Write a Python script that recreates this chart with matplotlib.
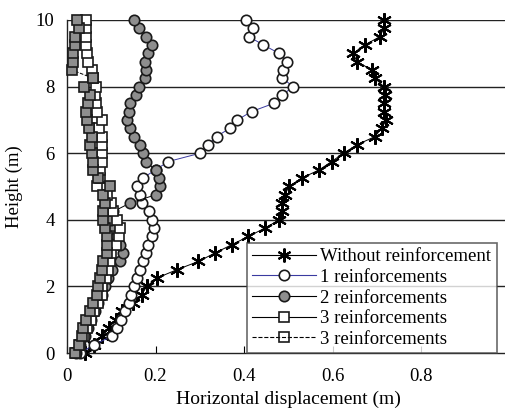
import matplotlib
matplotlib.use("Agg")
import matplotlib.pyplot as plt
from matplotlib.lines import Line2D

plt.rcParams['font.family'] = ['Liberation Serif', 'DejaVu Serif']

heights = [0, 0.25, 0.5, 0.75, 1.0, 1.25, 1.5, 1.75, 2.0, 2.25, 2.5, 2.75, 3.0, 3.25,
           3.5, 3.75, 4.0, 4.25, 4.5, 4.75, 5.0, 5.25, 5.5, 5.75, 6.0, 6.25, 6.5, 6.75,
           7.0, 7.25, 7.5, 7.75, 8.0, 8.25, 8.5, 8.75, 9.0, 9.25, 9.5, 9.75, 10.0]

without_reinf = [0.04, 0.06, 0.08, 0.095, 0.11, 0.125, 0.150, 0.169, 0.180, 0.203, 0.248,
                 0.297, 0.334, 0.372, 0.410, 0.447, 0.480, 0.485, 0.487, 0.492, 0.502,
                 0.530, 0.570, 0.598, 0.625, 0.655, 0.696, 0.711, 0.722, 0.716, 0.716,
                 0.719, 0.716, 0.696, 0.689, 0.655, 0.647, 0.673, 0.707, 0.716, 0.716]

reinf_1 = [0.03, 0.061, 0.101, 0.112, 0.122, 0.131, 0.139, 0.144, 0.151, 0.159, 0.165,
           0.172, 0.179, 0.184, 0.191, 0.197, 0.191, 0.186, 0.169, 0.165, 0.159, 0.171,
           0.200, 0.229, 0.301, 0.319, 0.338, 0.368, 0.385, 0.417, 0.468, 0.487, 0.511,
           0.487, 0.489, 0.497, 0.479, 0.444, 0.411, 0.420, 0.405]

reinf_2 = [0.02, 0.03, 0.04, 0.047, 0.055, 0.063, 0.07, 0.078, 0.085, 0.093, 0.101,
           0.120, 0.127, 0.12, 0.11, 0.105, 0.10, 0.105, 0.142, 0.200, 0.210, 0.209,
           0.200, 0.178, 0.172, 0.165, 0.151, 0.142, 0.135, 0.140, 0.142, 0.157, 0.163,
           0.176, 0.178, 0.176, 0.184, 0.192, 0.179, 0.163, 0.151]

reinf_3a = [0.02, 0.03, 0.038, 0.045, 0.055, 0.06, 0.07, 0.078, 0.08, 0.088, 0.093,
            0.098, 0.10, 0.11, 0.118, 0.12, 0.112, 0.105, 0.1, 0.09, 0.067, 0.075,
            0.075, 0.078, 0.078, 0.078, 0.078, 0.073, 0.078, 0.067, 0.065, 0.063,
            0.066, 0.059, 0.056, 0.048, 0.046, 0.043, 0.043, 0.043, 0.043]

reinf_3b = [0.018, 0.026, 0.033, 0.037, 0.044, 0.052, 0.059, 0.067, 0.071, 0.075, 0.078,
            0.081, 0.090, 0.090, 0.090, 0.086, 0.082, 0.082, 0.086, 0.082, 0.097, 0.071,
            0.058, 0.058, 0.056, 0.052, 0.056, 0.050, 0.046, 0.044, 0.048, 0.052, 0.038,
            0.059, 0.011, 0.014, 0.014, 0.018, 0.018, 0.026, 0.023]

labels = ["Without reinforcement", "1 reinforcements", "2 reinforcements",
          "3 reinforcements", "3 reinforcements"]
x_ticks = [0, 0.2, 0.4, 0.6, 0.8, 1.0]
x_ticklabels = ["0", "0.2", "0.4", "0.6", "0.8", "1"]
y_ticks = [0, 2, 4, 6, 8, 10]

fig = plt.figure(figsize=(5.05, 4.19), dpi=100)
W, H = 505, 419
ax = fig.add_axes([67 / W, (H - 353) / H, 442.5 * 1.0 / W, (353 - 20) / H])

edge = '#1a1a1a'
gray = '#8e8e8e'
ms_c = 7.5
ms_s = 7.2
mew = 1.2
fs = 13.5

ax.plot(without_reinf, heights, color='black', lw=0.7, marker=(6, 2, 0), ms=10.5,
        mew=1.5, mec='black', zorder=3, clip_on=False)
ax.plot(reinf_1, heights, color='#3a3aa0', lw=0.7, marker='o', ms=ms_c, mfc='white',
        mec=edge, mew=mew, zorder=4, clip_on=False)
ax.plot(reinf_2, heights, color='black', lw=0.7, marker='o', ms=ms_c, mfc=gray,
        mec=edge, mew=mew, zorder=5, clip_on=False)
ax.plot(reinf_3a, heights, color='black', lw=0.7, marker='s', ms=ms_s, mfc='white',
        mec=edge, mew=mew, zorder=6, clip_on=False)
ax.plot(reinf_3b, heights, color='black', lw=0.7, ls='--', marker='s', ms=ms_s, mfc=gray,
        mec=edge, mew=mew, zorder=7, clip_on=False)

ax.set_xlim(0, 1.0)
ax.set_ylim(0, 10)
ax.set_xticks(x_ticks)
ax.set_xticklabels(x_ticklabels)
ax.set_yticks(y_ticks)
for yv in y_ticks[1:]:
    ax.axhline(yv, color='#222222', lw=1.0, zorder=1)

for s in ['top', 'right']:
    ax.spines[s].set_visible(False)
for s in ['left', 'bottom']:
    ax.spines[s].set_linewidth(1.0)
    ax.spines[s].set_color('#222222')
ax.tick_params(axis='x', direction='in', length=5, width=0.8, labelsize=fs, pad=11)
ax.tick_params(axis='y', direction='in', length=0, labelsize=fs, pad=9)

ax.set_xlabel("Horizontal displacement (m)", fontsize=14, labelpad=4)
ax.set_ylabel("Height (m)", fontsize=fs, labelpad=9)

handles = [
    Line2D([], [], color='black', lw=0.8, marker=(6, 2, 0), ms=10, mew=1.5, mec='black'),
    Line2D([], [], color='#3a3aa0', lw=0.8, marker='o', ms=ms_c, mfc='white', mec=edge, mew=mew),
    Line2D([], [], color='black', lw=0.8, marker='o', ms=ms_c, mfc=gray, mec=edge, mew=mew),
    Line2D([], [], color='black', lw=0.8, marker='s', ms=ms_s, mfc='white', mec=edge, mew=mew),
    Line2D([], [], color='black', lw=0.8, ls='--', marker='s', ms=ms_s, mfc='none', mec=edge, mew=mew),
]
leg = fig.legend(handles, labels, loc='upper left',
                 bbox_to_anchor=(247 / W, (H - 243) / H), bbox_transform=fig.transFigure,
                 fontsize=fs, frameon=True, fancybox=False, handlelength=3.4,
                 handletextpad=0.25, labelspacing=0.19, borderpad=0.27, borderaxespad=0)
leg.get_frame().set_edgecolor('#444444')
leg.get_frame().set_linewidth(1.2)
leg.set_zorder(10)

fig.savefig("out.png", dpi=100)
